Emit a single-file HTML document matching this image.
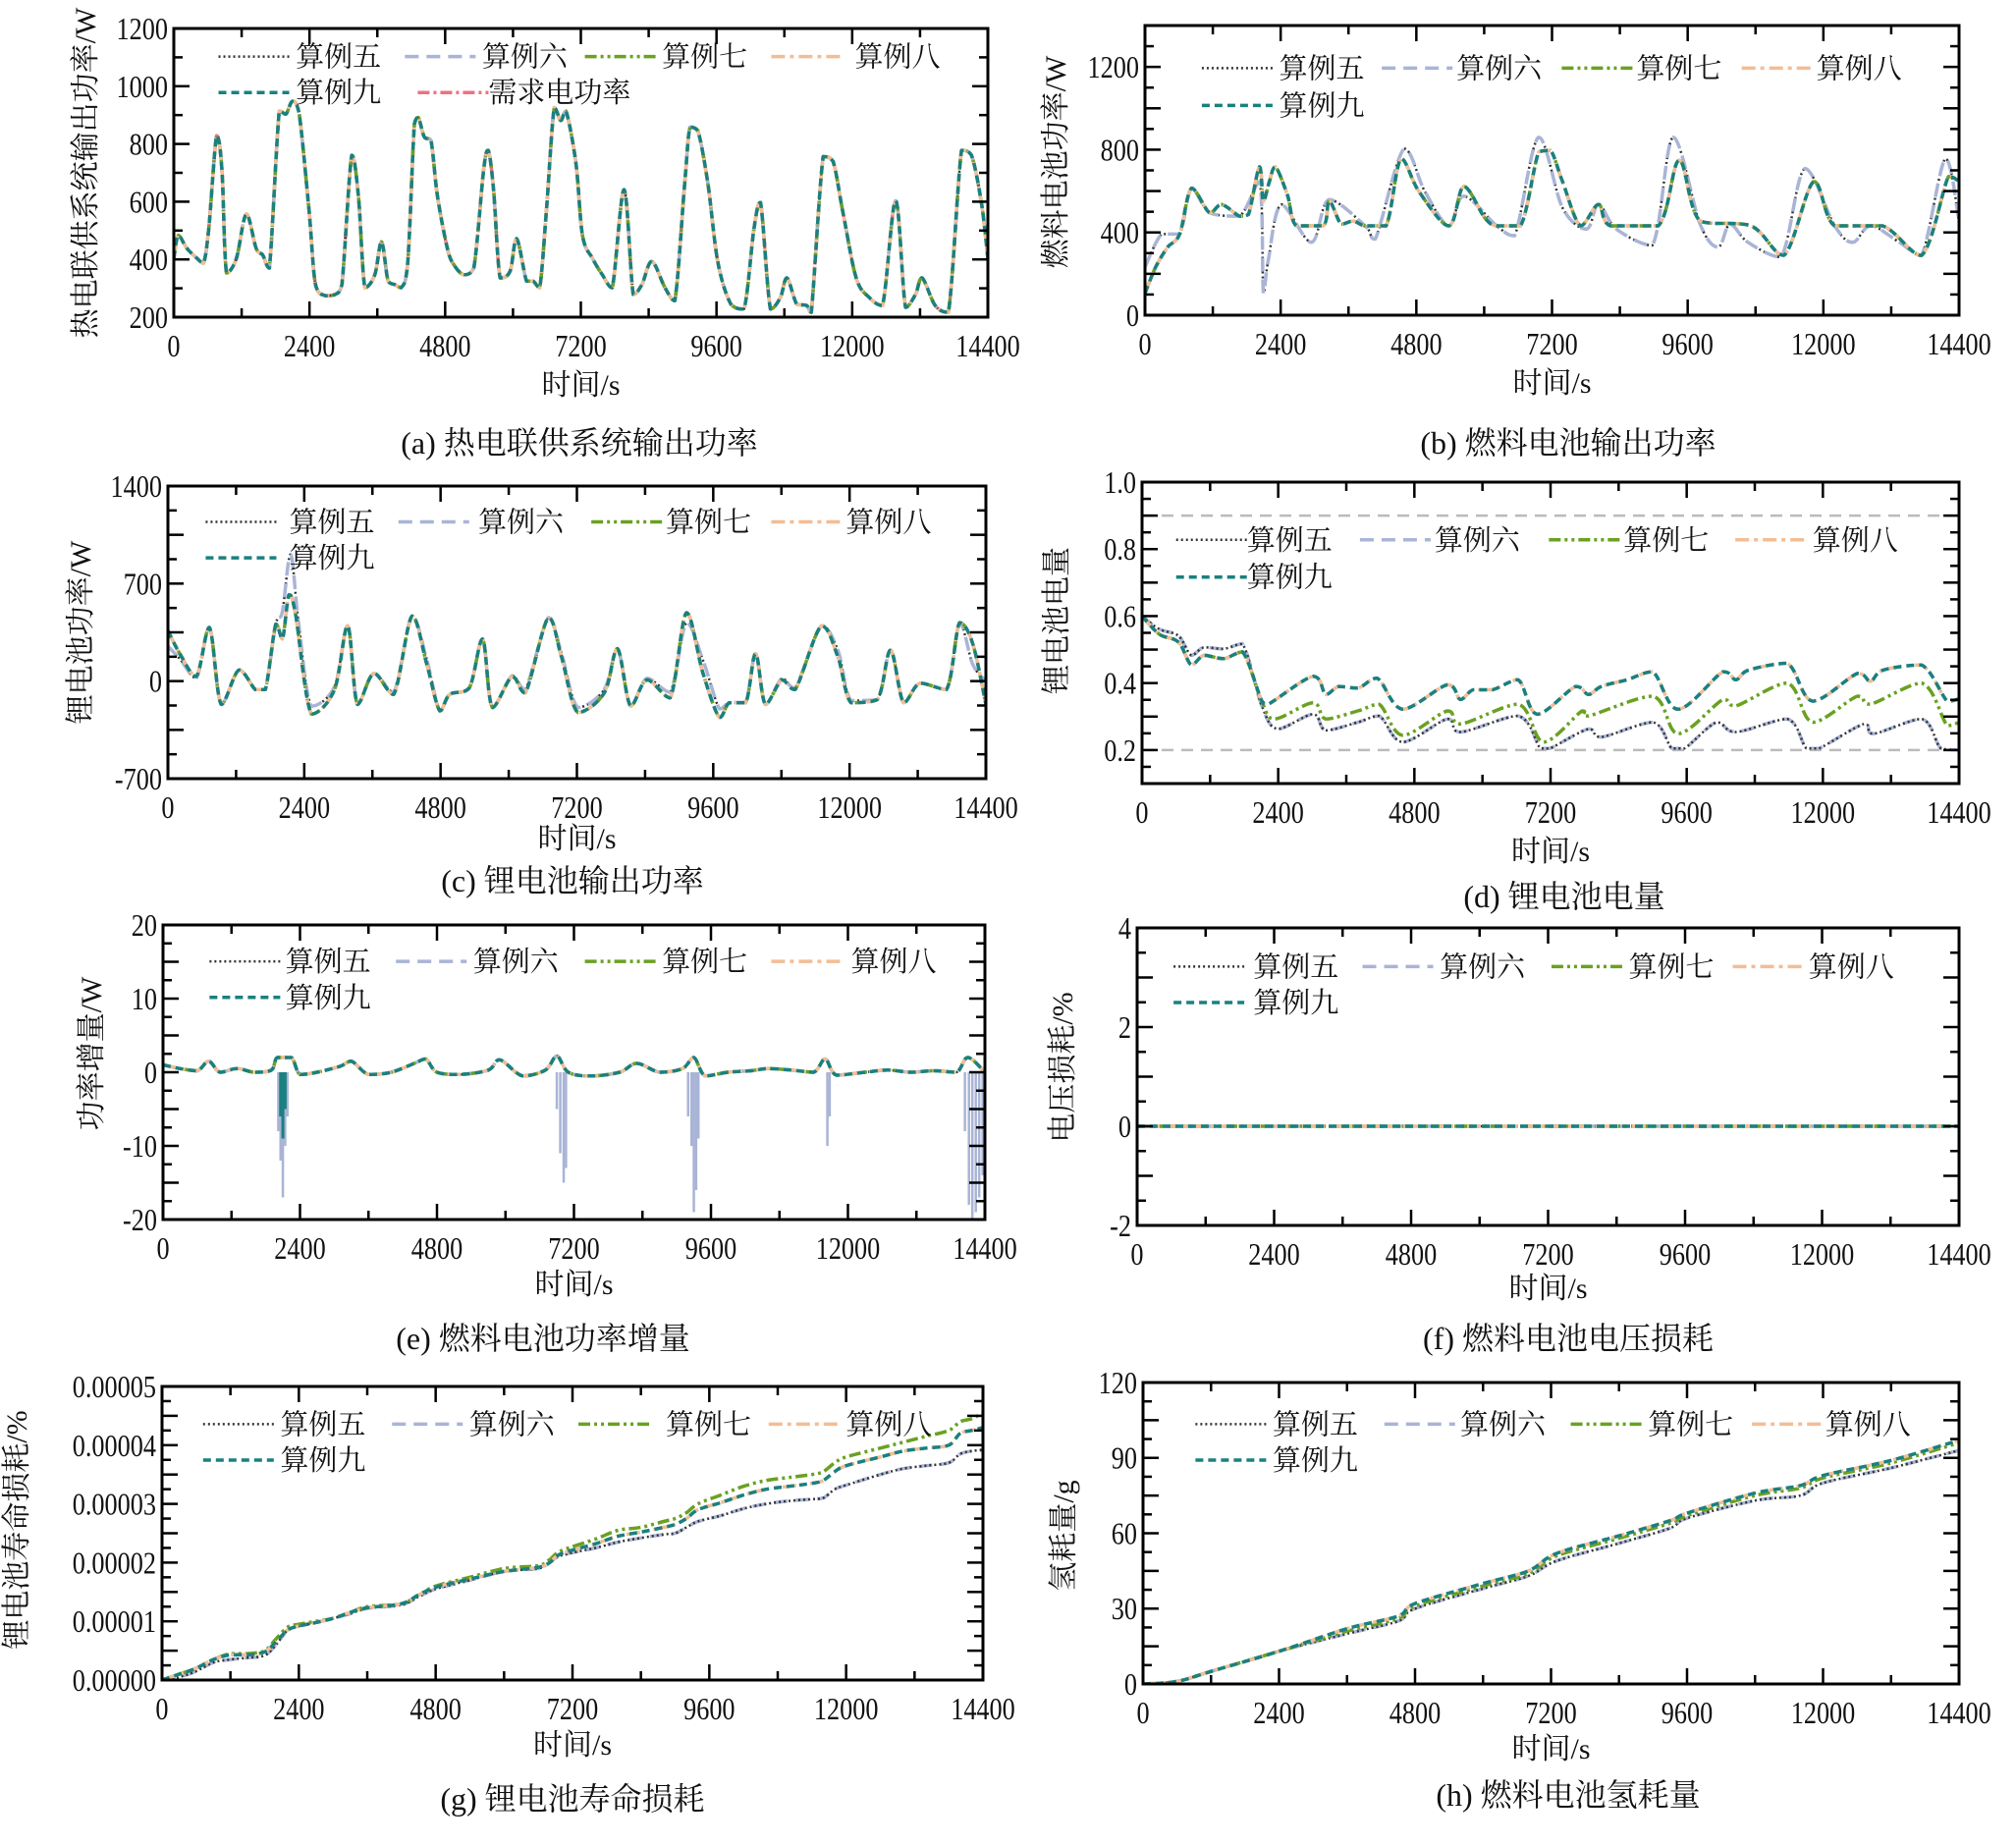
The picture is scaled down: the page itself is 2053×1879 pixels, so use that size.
<!DOCTYPE html>
<html><head><meta charset="utf-8">
<style>
html,body{margin:0;padding:0;background:#fff;}
svg{display:block;}
text{font-family:"Liberation Serif","Noto Serif CJK SC","Noto Sans CJK SC",serif;fill:#111;}
</style></head>
<body>
<svg id="fig" width="2053" height="1879" viewBox="0 0 2053 1879" xmlns="http://www.w3.org/2000/svg"></svg>
<script>
// ---------- data ----------
// (a) CHP output power
const tA=[0,80,233,408,525,618,758,851,933,1108,1283,1458,1574,1690,1866,1982,2099,2215,2390,2507,2682,2857,2973,3148,3265,3381,3556,3673,3790,3906,4023,4139,4256,4326,4431,4548,4664,4839,4956,5131,5306,5481,5562,5656,5772,5947,6064,6239,6355,6472,6589,6729,6845,6938,7113,7230,7405,7580,7755,7965,8128,8280,8455,8688,8863,9038,9131,9271,9446,9621,9854,10087,10262,10379,10554,10729,10845,11020,11195,11277,11487,11662,11837,12070,12303,12536,12769,12944,13119,13236,13469,13702,13935,14110,14285,14400];
const pA=[404,483,438,404,387,506,829,710,353,404,557,438,415,370,914,903,948,909,574,313,274,279,313,761,619,302,347,461,325,313,302,393,869,892,824,813,619,438,381,347,370,710,778,642,336,359,472,325,325,302,563,926,881,914,733,483,404,347,302,642,279,313,393,302,257,665,858,846,665,393,245,228,506,597,228,268,336,245,240,217,756,739,563,336,268,240,603,234,279,336,240,217,778,761,597,404];
// (b) fuel-cell output power
const tB1=[0,190,402,614,825,1143,1354,1672,1830,2025,2095,2200,2306,2518,2677,3153,3259,3471,3683,3894,4264,4529,4846,5375,5640,6011,6222,6645,6963,7174,7386,7704,8021,8233,9080,9450,9820,10720,11302,11831,12201,13048,13736,14212,14400];
const pB1=[106,233,329,392,614,495,535,479,487,717,551,646,717,582,432,432,551,440,455,432,432,757,598,432,622,471,432,432,789,797,646,432,535,432,432,749,455,432,289,646,432,432,289,670,646];
const tB2=[0,296,614,825,1143,1672,2025,2095,2180,2413,2942,3259,3894,4074,4582,4950,5375,5640,6222,6539,6963,7386,7810,8021,8340,8974,9344,9820,10138,10349,10667,11249,11672,12201,12519,12836,13344,13736,14159,14400];
const pB2=[233,392,392,614,495,479,646,106,265,535,352,559,432,368,805,598,432,575,432,384,860,519,416,535,416,337,860,440,329,440,352,281,709,432,352,432,352,289,757,455];
// (c) Li battery power
const tC1=[0,209,498,730,938,1251,1541,1715,1900,2016,2132,2248,2526,2931,3163,3337,3626,3974,4298,4553,4785,4959,5306,5538,5712,6060,6291,6697,6928,7218,7681,7913,8145,8434,8840,9129,9419,9709,9882,10172,10345,10519,10809,11041,11504,11794,12025,12489,12720,12952,13242,13705,13937,14169,14400];
const pC1=[362,197,33,385,-167,80,-61,-61,409,303,620,479,-237,-61,397,-167,56,-96,467,127,-214,-96,-49,303,-190,33,-85,456,174,-226,-85,233,-179,9,-120,491,56,-261,-155,-155,197,-167,9,-61,397,174,-155,-132,221,-155,-14,-61,420,268,-167];
const tC2=[0,209,498,730,938,1251,1541,1715,1900,2016,2160,2300,2526,2931,3163,3337,3626,3974,4298,4553,4785,4959,5306,5538,5712,6060,6291,6697,6928,7218,7681,7913,8145,8434,8840,9129,9419,9709,9882,10172,10345,10519,10809,11041,11504,11794,12025,12489,12720,12952,13242,13705,13937,14169,14400];
const pC2=[250,160,20,385,-167,80,-61,-61,409,500,910,420,-180,-40,397,-167,56,-80,467,160,-214,-96,-49,303,-190,40,-60,456,200,-190,-60,233,-179,20,-80,420,150,-200,-155,-150,197,-167,20,-50,397,220,-140,-132,221,-155,-14,-61,420,120,0];
// (d) Li battery SOC
const tD9=[0,305,643,869,1095,1434,1773,2111,2224,3014,3240,3466,3805,4144,4595,5385,5611,5837,6176,6627,6966,7643,7869,8095,8546,8998,9450,10240,10466,10692,11370,11821,12611,12837,13063,13741,14193,14400];
const sD9=[0.6,0.546,0.522,0.454,0.483,0.473,0.493,0.346,0.337,0.42,0.366,0.39,0.385,0.415,0.322,0.395,0.351,0.38,0.38,0.41,0.307,0.39,0.366,0.39,0.41,0.434,0.322,0.434,0.41,0.439,0.459,0.346,0.429,0.405,0.439,0.454,0.346,0.353];
const tD7=[0,305,643,869,1095,1434,1773,2111,2337,3014,3240,3805,4178,4595,5385,5611,6627,7079,7756,7869,8998,9450,10240,10466,11370,11821,12611,12837,13741,14193,14400];
const sD7=[0.6,0.546,0.522,0.454,0.483,0.473,0.493,0.346,0.293,0.341,0.293,0.317,0.337,0.244,0.317,0.278,0.337,0.224,0.317,0.302,0.361,0.249,0.351,0.332,0.4,0.283,0.361,0.337,0.4,0.273,0.283];
const tD5=[0,305,643,869,1095,1434,1773,2111,2393,3014,3240,3805,4178,4595,5385,5611,6627,7022,7191,7869,8095,8998,9337,9563,10127,10466,11370,11708,11934,12724,12893,13741,14080,14400];
const sD5=[0.6,0.561,0.541,0.483,0.507,0.502,0.517,0.332,0.263,0.307,0.259,0.283,0.302,0.224,0.293,0.254,0.302,0.205,0.205,0.263,0.239,0.283,0.205,0.205,0.283,0.254,0.293,0.205,0.205,0.278,0.249,0.293,0.205,0.2];
// (e) fuel-cell power increment
const tE=[0,300,600,800,1000,1300,1600,1900,2000,2250,2400,2700,3100,3300,3600,4000,4400,4600,4800,5200,5700,5900,6300,6700,6900,7100,7500,8000,8300,8700,9100,9300,9500,9900,10300,10600,11000,11400,11600,11800,12300,12700,13100,13500,13900,14100,14400];
const dE=[1,0.5,0.2,1.5,0,0.5,0,0.3,2,2,-0.3,0,0.8,1.5,-0.3,0,1.2,1.8,0,-0.3,0.3,1.7,-0.5,0.3,2.2,0,-0.5,0,1.2,0,0.5,2,-0.5,0,0.2,0.5,0.3,0,1.8,-0.4,0,0.3,0,0.2,0,2,0];
const spikeT=[2020,2060,2100,2140,2180,6900,6960,7020,7060,9200,9260,9300,9340,9380,11640,11680,14050,14120,14180,14240,14300,14360];
const spikeV=[-8,-12,-17,-10,-6,-5,-11,-15,-13,-6,-10,-19,-16,-9,-10,-6,-8,-18,-20,-19,-17,-14];
const tealSpikeT=[2060,2100,2140];
const tealSpikeV=[-6,-9,-5];
// (f) voltage loss
const tF=[0,3600,7200,10800,14400];
const vF=[0,0,0,0,0];
// (g) battery life loss (unit 1e-5 %)
const tG=[0,300,600,900,1200,1500,1800,2000,2200,2400,2700,3000,3300,3600,4200,4500,4800,5400,6000,6600,6800,7000,7600,8000,8400,8800,9000,9200,9400,9800,10200,10600,11000,11400,11600,11800,12000,12600,13000,13400,13800,14000,14200,14400];
const g7=[0,0.1,0.2,0.35,0.45,0.45,0.5,0.7,0.9,0.95,1.0,1.05,1.15,1.25,1.3,1.45,1.6,1.75,1.9,1.95,2.05,2.2,2.4,2.55,2.6,2.7,2.75,2.85,3.0,3.15,3.3,3.4,3.45,3.5,3.55,3.7,3.8,3.95,4.05,4.15,4.25,4.4,4.45,4.55];
const g9=[0,0.1,0.2,0.35,0.43,0.43,0.48,0.65,0.85,0.92,0.98,1.05,1.15,1.23,1.3,1.45,1.58,1.72,1.85,1.92,2.0,2.15,2.32,2.45,2.52,2.6,2.65,2.75,2.9,3.02,3.15,3.25,3.3,3.35,3.4,3.55,3.65,3.8,3.9,3.95,4.0,4.2,4.25,4.3];
const g5=[0,0.05,0.15,0.3,0.35,0.38,0.42,0.6,0.85,0.92,0.98,1.05,1.13,1.22,1.28,1.42,1.55,1.7,1.85,1.9,2.0,2.12,2.25,2.35,2.42,2.48,2.5,2.6,2.7,2.8,2.92,3.0,3.05,3.08,3.1,3.25,3.32,3.5,3.6,3.65,3.7,3.85,3.9,3.92];
// (h) hydrogen consumption
const tH=[0,600,1200,2400,3600,4500,4800,6000,6800,7300,8400,9300,9600,10800,11600,12000,13200,14400];
const h9=[0,1,5,13,22,27,32,40,45,52,59,65,68,76,79,83,89,97];
const h7=[0,1,5,13,21,26,31,39,44,51,58,64,67,75,78,82,88,96];
const h5=[0,1,5,13,20,25,30,38,43,49,56,62,66,73,75,80,86,93];

// ---------- drawing ----------
const svg=document.getElementById('fig');
const NS='http://www.w3.org/2000/svg';
function mk(tag,attrs,parent){const e=document.createElementNS(NS,tag);for(const k in attrs)e.setAttribute(k,attrs[k]);(parent||svg).appendChild(e);return e;}
const ST={
 s5:{stroke:'#333',dash:'2 3',w:2.5,name:'算例五'},
 s6:{stroke:'#a9b4d6',dash:'14 8',w:3.5,name:'算例六'},
 s7:{stroke:'#6aa121',dash:'12 4 3 4 3 4',w:3.5,name:'算例七'},
 s8:{stroke:'#f3bd95',dash:'14 5 4 5',w:3.5,name:'算例八'},
 s9:{stroke:'#1a8080',dash:'8 5',w:3.5,name:'算例九'},
 dem:{stroke:'#f07080',dash:'12 4 3 4',w:3.5,name:'需求电功率'}
};
function clampv(v,a,b){const lo=Math.min(a,b),hi=Math.max(a,b);return Math.max(lo,Math.min(hi,v));}
function smooth(P){
 let d='M'+P[0][0].toFixed(1)+','+P[0][1].toFixed(1);
 for(let i=0;i<P.length-1;i++){const p0=P[Math.max(0,i-1)],p1=P[i],p2=P[i+1],p3=P[Math.min(P.length-1,i+2)];
  const c1x=p1[0]+(p2[0]-p0[0])/6,c2x=p2[0]-(p3[0]-p1[0])/6;
  const c1y=clampv(p1[1]+(p2[1]-p0[1])/6,p1[1],p2[1]),c2y=clampv(p2[1]-(p3[1]-p1[1])/6,p1[1],p2[1]);
  d+='C'+c1x.toFixed(1)+','+c1y.toFixed(1)+' '+c2x.toFixed(1)+','+c2y.toFixed(1)+' '+p2[0].toFixed(1)+','+p2[1].toFixed(1);}
 return d;}
const FS=32;
function panel(cfg){
 const g=mk('g',{});
 
 
 const L=cfg.x0,R=cfg.x1,T=cfg.y0,B=cfg.y1;
 const xs=v=>L+(v/14400)*(R-L);
 const ys=v=>B-(v-cfg.ymin)/(cfg.ymax-cfg.ymin)*(B-T);
 const clip='clip-'+cfg.id;
 const cp=mk('clipPath',{id:clip},g);mk('rect',{x:L,y:T,width:R-L,height:B-T},cp);
 const lg=mk('g',{'clip-path':'url(#'+clip+')'},g);
 
 
 (cfg.refs||[]).forEach(v=>{const l=mk('line',{x1:L,x2:R,y1:ys(v),y2:ys(v),stroke:'#bbb','stroke-width':2.5,'stroke-dasharray':'12 8'},lg);
  });
 (cfg.spikes||[]).forEach(sp=>{sp.t.forEach((t,i)=>{const l=mk('line',{x1:xs(t),x2:xs(t),y1:ys(0),y2:ys(sp.v[i]),stroke:sp.c,'stroke-width':sp.w},lg);
  });});
 cfg.series.forEach(s=>{const st=ST[s.k];const P=s.t.map((t,i)=>[xs(t),ys(s.v[i])]);
  const p=mk('path',{d:smooth(P),fill:'none',stroke:st.stroke,'stroke-width':st.w,'stroke-dasharray':st.dash,'stroke-linejoin':'round'},lg);
  });
 const fr=mk('rect',{x:L,y:T,width:R-L,height:B-T,fill:'none',stroke:'#000','stroke-width':3},g);
 
 for(let i=0;i<=12;i++){const v=i*1200,x=xs(v),len=i%2?9:16;
  mk('line',{x1:x,x2:x,y1:B,y2:B-len,stroke:'#000','stroke-width':2.5},g);
  mk('line',{x1:x,x2:x,y1:T,y2:T+len,stroke:'#000','stroke-width':2.5},g);
  if(i%2==0){const tx=mk('text',{x:x,y:B+40,'text-anchor':'middle','font-size':FS,transform:`translate(${x},0) scale(0.82,1) translate(${-x},0)`},g);tx.textContent=String(v);
   }}
 const n=cfg.yt.length;
 for(let i=0;i<n;i++){const v=cfg.yt[i],y=ys(v);
  mk('line',{x1:L,x2:L+16,y1:y,y2:y,stroke:'#000','stroke-width':2.5},g);
  mk('line',{x1:R,x2:R-16,y1:y,y2:y,stroke:'#000','stroke-width':2.5},g);
  if(i<n-1){const ym=ys((v+cfg.yt[i+1])/2);
   mk('line',{x1:L,x2:L+9,y1:ym,y2:ym,stroke:'#000','stroke-width':2.5},g);
   mk('line',{x1:R,x2:R-9,y1:ym,y2:ym,stroke:'#000','stroke-width':2.5},g);}
  const tx=mk('text',{x:L-6,y:y+11,'text-anchor':'end','font-size':FS,transform:`translate(${L-6},0) scale(0.82,1) translate(${-(L-6)},0)`},g);
  tx.textContent=cfg.ytl?cfg.ytl[i]:String(v);
  }
 const xt=mk('text',{x:(L+R)/2,y:cfg.xly,'text-anchor':'middle','font-size':30},g);xt.textContent='时间/s';
 
 const yt=mk('text',{x:0,y:0,'text-anchor':'middle','font-size':30,transform:`translate(${cfg.ylx},${cfg.yly}) rotate(-90)`},g);yt.textContent=cfg.ylab;
 
 const cap=mk('text',{x:cfg.capx,y:cfg.capy,'text-anchor':'middle','font-size':32},g);cap.textContent=cfg.cap;
 
 cfg.leg.forEach(e=>{const st=ST[e[0]];const S=1.309;const lx=e[1]*S,ly=e[3]*S,tx=e[2]*S;
  const lgd=mk('g',{},g);
  mk('line',{x1:lx,x2:lx+72,y1:ly,y2:ly,stroke:st.stroke,'stroke-width':st.w,'stroke-dasharray':st.dash},lgd);
  const t=mk('text',{x:tx,y:ly+10,'font-size':29},lgd);t.textContent=st.name;});
}
function row5(xs2,y1,y2){return [['s5',xs2[0],xs2[1],y1],['s6',xs2[2],xs2[3],y1],['s7',xs2[4],xs2[5],y1],['s8',xs2[6],xs2[7],y1],['s9',xs2[0],xs2[1],y2]];}
panel({id:'panel-a',x0:177,x1:1006,y0:29,y1:323,ymin:200,ymax:1200,yt:[200,400,600,800,1000,1200],ylab:'热电联供系统输出功率/W',ylx:97,yly:176,xly:402,cap:'(a) 热电联供系统输出功率',capx:590,capy:462,
 series:[{k:'dem',t:tA,v:pA},{k:'s5',t:tA,v:pA},{k:'s6',t:tA,v:pA},{k:'s7',t:tA,v:pA},{k:'s8',t:tA,v:pA},{k:'s9',t:tA,v:pA}],
 leg:row5([170,230,315,375,455,515,600,665],44,72).concat([['dem',325,380,72]])});
panel({id:'panel-b',x0:1166,x1:1995,y0:26,y1:321,ymin:0,ymax:1400,yt:[0,200,400,600,800,1000,1200,1400],ytl:['0','','400','','800','','1200',''],ylab:'燃料电池功率/W',ylx:1085,yly:165,xly:400,cap:'(b) 燃料电池输出功率',capx:1597,capy:462,
 series:[{k:'s5',t:tB2,v:pB2},{k:'s6',t:tB2,v:pB2},{k:'s7',t:tB1,v:pB1},{k:'s8',t:tB1,v:pB1},{k:'s9',t:tB1,v:pB1}],
 leg:row5([935,995,1075,1133,1215,1273,1355,1413],53,82)});
panel({id:'panel-c',x0:171,x1:1004,y0:495,y1:793,ymin:-700,ymax:1400,yt:[-700,-350,0,350,700,1050,1400],ytl:['-700','','0','','700','','1400'],ylab:'锂电池功率/W',ylx:92,yly:644,xly:864,cap:'(c) 锂电池输出功率',capx:583,capy:908,
 series:[{k:'s5',t:tC2,v:pC2},{k:'s6',t:tC2,v:pC2},{k:'s7',t:tC1,v:pC1},{k:'s8',t:tC1,v:pC1},{k:'s9',t:tC1,v:pC1}],
 leg:row5([160,225,310,372,460,518,600,658],406,434)});
panel({id:'panel-d',x0:1163,x1:1995,y0:491,y1:798,ymin:0.1,ymax:1.0,yt:[0.1,0.2,0.3,0.4,0.5,0.6,0.7,0.8,0.9,1.0],ytl:['','0.2','','0.4','','0.6','','0.8','','1.0'],ylab:'锂电池电量',ylx:1086,yly:632,xly:877,cap:'(d) 锂电池电量',capx:1593,capy:924,refs:[0.9,0.2],
 series:[{k:'s6',t:tD5,v:sD5},{k:'s5',t:tD5,v:sD5},{k:'s7',t:tD7,v:sD7},{k:'s8',t:tD9,v:sD9},{k:'s9',t:tD9,v:sD9}],
 leg:row5([915,970,1058,1116,1205,1263,1350,1410],420,449)});
panel({id:'panel-e',x0:166,x1:1003,y0:942,y1:1242,ymin:-20,ymax:20,yt:[-20,-15,-10,-5,0,5,10,15,20],ytl:['-20','','-10','','0','','10','','20'],ylab:'功率增量/W',ylx:103,yly:1073,xly:1318,cap:'(e) 燃料电池功率增量',capx:553,capy:1374,
 spikes:[{t:spikeT,v:spikeV,c:'#a9b4d6',w:2.5},{t:tealSpikeT,v:tealSpikeV,c:'#1a8080',w:3}],
 series:[{k:'s5',t:tE,v:dE},{k:'s6',t:tE,v:dE},{k:'s7',t:tE,v:dE},{k:'s8',t:tE,v:dE},{k:'s9',t:tE,v:dE}],
 leg:row5([163,222,308,368,455,515,600,662],748,776)});
panel({id:'panel-f',x0:1158,x1:1995,y0:945,y1:1248,ymin:-2,ymax:4,yt:[-2,-1,0,1,2,3,4],ytl:['-2','','0','','2','','4'],ylab:'电压损耗/%',ylx:1092,yly:1087,xly:1322,cap:'(f) 燃料电池电压损耗',capx:1597,capy:1374,
 series:[{k:'s5',t:tF,v:vF},{k:'s6',t:tF,v:vF},{k:'s7',t:tF,v:vF},{k:'s8',t:tF,v:vF},{k:'s9',t:tF,v:vF}],
 leg:row5([913,975,1060,1120,1207,1267,1348,1407],752,780)});
panel({id:'panel-g',x0:165,x1:1001,y0:1412,y1:1711,ymin:0,ymax:5,yt:[0,0.5,1,1.5,2,2.5,3,3.5,4,4.5,5],ytl:['0.00000','','0.00001','','0.00002','','0.00003','','0.00004','','0.00005'],ylab:'锂电池寿命损耗/%',ylx:27,yly:1558,xly:1787,cap:'(g) 锂电池寿命损耗',capx:583,capy:1843,
 series:[{k:'s6',t:tG,v:g5},{k:'s5',t:tG,v:g5},{k:'s7',t:tG,v:g7},{k:'s8',t:tG,v:g9},{k:'s9',t:tG,v:g9}],
 leg:row5([158,218,305,365,450,518,598,658],1108,1136)});
panel({id:'panel-h',x0:1164,x1:1995,y0:1408,y1:1715,ymin:0,ymax:120,yt:[0,15,30,45,60,75,90,105,120],ytl:['0','','30','','60','','90','','120'],ylab:'氢耗量/g',ylx:1093,yly:1564,xly:1791,cap:'(h) 燃料电池氢耗量',capx:1597,capy:1839,
 series:[{k:'s6',t:tH,v:h5},{k:'s5',t:tH,v:h5},{k:'s7',t:tH,v:h7},{k:'s8',t:tH,v:h9},{k:'s9',t:tH,v:h9}],
 leg:row5([930,990,1077,1136,1222,1282,1363,1420],1108,1136)});
</script>
</body></html>
